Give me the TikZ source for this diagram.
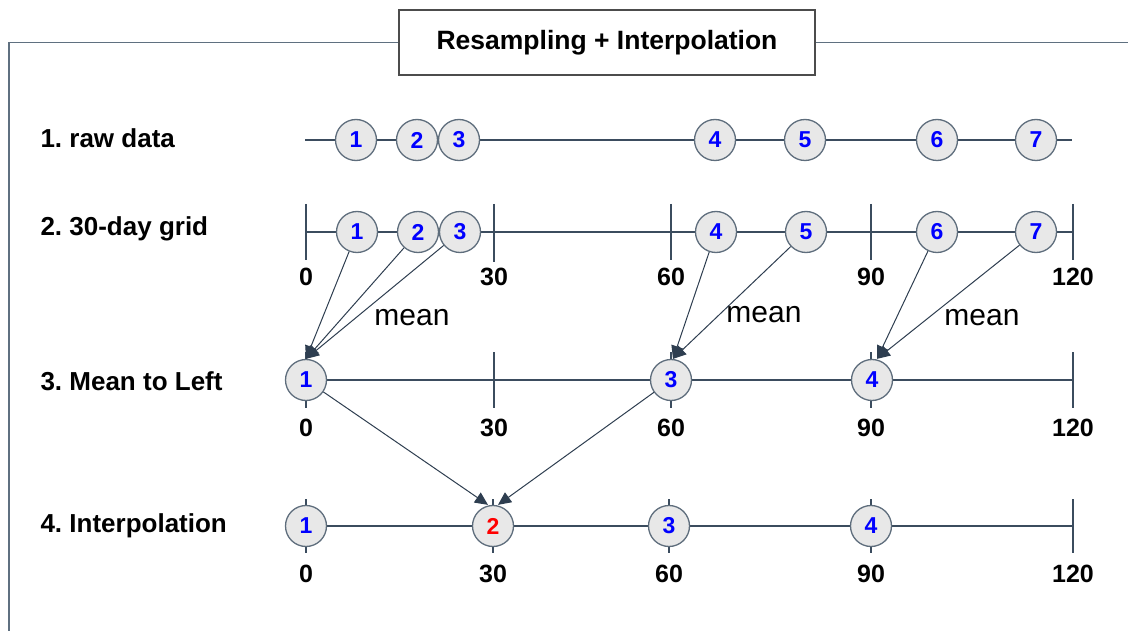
\documentclass[tikz,border=0pt]{standalone}
\usepackage{fontspec}
\setmainfont{Liberation Sans}
\usetikzlibrary{arrows.meta}
\definecolor{axisc}{HTML}{3B4C5E}
\definecolor{ringc}{HTML}{5E6D7C}
\definecolor{dotfill}{HTML}{E8E8E8}
\definecolor{framec}{HTML}{5F7080}
\definecolor{arrc}{HTML}{2E3E50}
\frenchspacing

\begin{document}
\begin{tikzpicture}[x=1pt, y=-1pt,
  dot/.style={circle, draw=ringc, line width=1.3pt, fill=dotfill, minimum size=41pt,
              inner sep=0pt, font=\fontsize{23}{23}\selectfont\bfseries, text=#1},
  dot/.default=blue,
  rowlbl/.style={anchor=west, font=\fontsize{26}{26}\selectfont\bfseries},
  tick/.style={font=\fontsize{25}{25}\selectfont\bfseries},
  axis/.style={draw=axisc, line width=1.2pt},
  arr/.style={-{Triangle[length=13pt,width=12pt]}, draw=arrc, line width=1pt},
  meanlbl/.style={font=\fontsize{30}{30}\selectfont}]
\useasboundingbox (0,0) rectangle (1128,631);

% title and frame
\node[draw=black!70, line width=1.3pt, minimum width=416pt, minimum height=65pt,
      font=\fontsize{26.5}{26.5}\selectfont\bfseries] (title) at (607,42.5) {Resampling + Interpolation};
\draw[draw=framec, line width=1.3pt] (title.west) -- (9,42.5) -- (9,640);
\draw[draw=framec, line width=1.3pt] (title.east) -- (1140,42.5);

% row labels
\node[rowlbl] (l1) at (37,138) {1. raw data};
\node[rowlbl] (l2) at (37,229) {2. 30-day grid};
\node[rowlbl] (l3) at (37,381) {3. Mean to Left};
\node[rowlbl] (l4) at (37,526) {4. Interpolation};

% axes
\draw[axis] (305,140) -- (1072,140);
\draw[axis] (306,232) -- (1073,232);
\draw[axis] (306,204) -- (306,260) (494,204) -- (494,262) (671,204) -- (671,260)
            (871,204) -- (871,260) (1073,204) -- (1073,260);
\draw[axis] (306,380) -- (1073,380);
\draw[axis] (306,352) -- (306,408) (494,352) -- (494,408) (671,352) -- (671,408)
            (871,352) -- (871,408) (1073,352) -- (1073,408);
\draw[axis] (306,526) -- (1073,526);
\draw[axis] (306,499) -- (306,553) (493,499) -- (493,553) (669,499) -- (669,553)
            (871,499) -- (871,553) (1073,499) -- (1073,553);

% 1. raw data
\node[dot] (a1) at (356,140) {1};
\node[dot] (a2) at (417,140) {2};
\node[dot] (a3) at (459,140) {3};
\node[dot] (a4) at (715,140) {4};
\node[dot] (a5) at (805,140) {5};
\node[dot] (a6) at (937,140) {6};
\node[dot] (a7) at (1036,140) {7};

% 2. 30-day grid
\node[dot] (b1) at (357,232) {1};
\node[dot] (b2) at (418,232) {2};
\node[dot] (b3) at (460,232) {3};
\node[dot] (b4) at (716,232) {4};
\node[dot] (b5) at (806,232) {5};
\node[dot] (b6) at (937,232) {6};
\node[dot] (b7) at (1036,232) {7};
\node[tick] (b0t) at (306,277) {0};
\node[tick] (b30t) at (494,277) {30};
\node[tick] (b60t) at (671,277) {60};
\node[tick] (b90t) at (871,277) {90};
\node[tick] (b120t) at (1073,277) {120};

% 3. mean to left
\node[dot] (c1) at (306,380) {1};
\node[dot] (c3) at (671,380) {3};
\node[dot] (c4) at (872,380) {4};
\node[tick] (c0t) at (306,428) {0};
\node[tick] (c30t) at (494,428) {30};
\node[tick] (c60t) at (671,428) {60};
\node[tick] (c90t) at (871,428) {90};
\node[tick] (c120t) at (1073,428) {120};

% 4. interpolation
\node[dot] (d1) at (306,526) {1};
\node[dot=red] (d2) at (493,526) {2};
\node[dot] (d3) at (669,526) {3};
\node[dot] (d4) at (871,526) {4};
\node[tick] (d0t) at (306,574) {0};
\node[tick] (d30t) at (493,574) {30};
\node[tick] (d60t) at (669,574) {60};
\node[tick] (d90t) at (871,574) {90};
\node[tick] (d120t) at (1073,574) {120};

% mean arrows
\draw[arr] (b1) -- (c1.north);
\draw[arr] (b2) -- (c1.north);
\draw[arr] (b3) -- (c1.north);
\draw[arr] (b4) -- ([xshift=2pt]c3.north);
\draw[arr] (b5) -- ([xshift=2pt]c3.north);
\draw[arr] (b6) -- ([xshift=5pt]c4.north);
\draw[arr] (b7) -- ([xshift=5pt]c4.north);
\node[meanlbl] (m1) at (412,318) {mean};
\node[meanlbl] (m2) at (764,315) {mean};
\node[meanlbl] (m3) at (982,318) {mean};

% interpolation arrows
\draw[arr] (c1) -- ([xshift=-5pt]d2.north);
\draw[arr] (c3) -- ([xshift=5pt]d2.north);
\end{tikzpicture}
\end{document}
